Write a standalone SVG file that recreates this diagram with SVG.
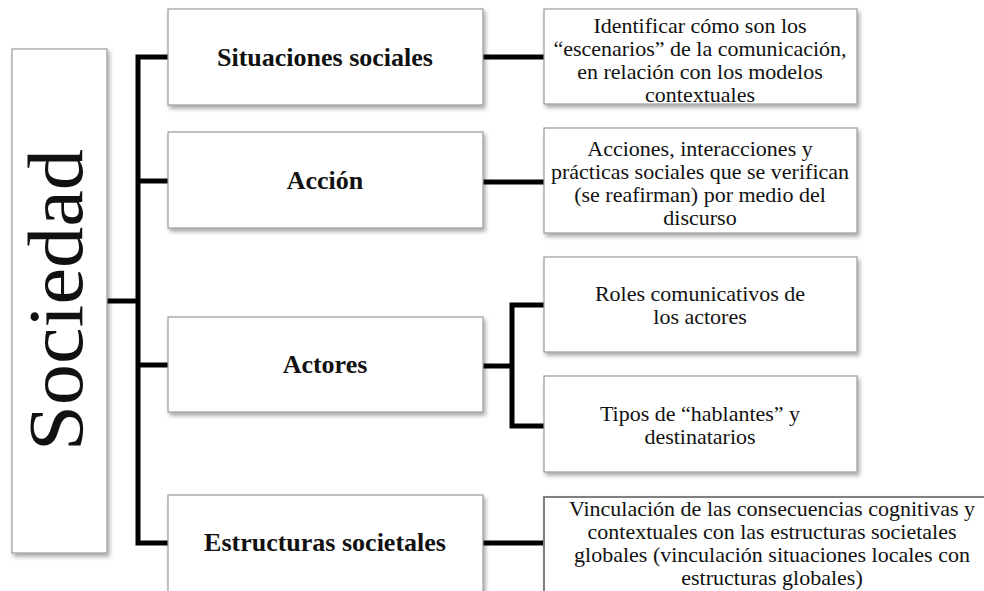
<svg xmlns="http://www.w3.org/2000/svg" width="984" height="591" viewBox="0 0 984 591">
<defs>
<filter id="sh" x="-10%" y="-10%" width="130%" height="130%">
<feDropShadow dx="2" dy="3" stdDeviation="2" flood-color="#000" flood-opacity="0.35"/>
</filter>
<style>
.box{fill:#fff;stroke:#9a9a9a;stroke-width:1.2;filter:url(#sh)}
.lbl{font-family:"Liberation Serif","Times New Roman",serif;font-weight:bold;font-size:26px;fill:#111;text-anchor:middle}
.txt{font-family:"Liberation Serif","Times New Roman",serif;font-size:22px;fill:#111;text-anchor:middle}
.big{font-family:"Liberation Serif","Times New Roman",serif;font-size:78px;fill:#111;text-anchor:middle}
.con{fill:none;stroke:#000;stroke-width:5;stroke-linejoin:miter;stroke-linecap:butt}
</style>
</defs>
<rect width="984" height="591" fill="#fff"/>
<g id="connectors">
<path class="con" d="M107,301 H138"/>
<path class="con" d="M168,57 H138 V543 H168"/>
<path class="con" d="M138,181 H168"/>
<path class="con" d="M138,365 H168"/>
<path class="con" d="M483,57 H544"/>
<path class="con" d="M483,182 H544"/>
<path class="con" d="M483,366 H512"/>
<path class="con" d="M544,305 H512 V426 H544"/>
<path class="con" d="M483,543 H544"/>
</g>
<g id="sociedad">
<rect class="box" x="12" y="49" width="95" height="504"/>
<text class="big" transform="translate(82,300) rotate(-90)" textLength="302" lengthAdjust="spacingAndGlyphs">Sociedad</text>
</g>
<g id="situaciones">
<rect class="box" x="168" y="9" width="315" height="96"/>
<text class="lbl" x="325" y="66">Situaciones sociales</text>
</g>
<g id="accion">
<rect class="box" x="168" y="132" width="315" height="96"/>
<text class="lbl" x="325" y="189">Acción</text>
</g>
<g id="actores">
<rect class="box" x="168" y="317" width="315" height="95"/>
<text class="lbl" x="325" y="373">Actores</text>
</g>
<g id="estructuras">
<rect class="box" x="168" y="495" width="315" height="110"/>
<text class="lbl" x="325" y="551">Estructuras societales</text>
</g>
<g id="d1">
<rect class="box" x="544" y="9" width="313" height="95"/>
<text class="txt"><tspan x="700" y="33">Identificar cómo son los</tspan><tspan x="700" y="56">“escenarios” de la comunicación,</tspan><tspan x="700" y="79">en relación con los modelos</tspan><tspan x="700" y="102">contextuales</tspan></text>
</g>
<g id="d2">
<rect class="box" x="544" y="128" width="313" height="105"/>
<text class="txt"><tspan x="700" y="156">Acciones, interacciones y</tspan><tspan x="700" y="179">prácticas sociales que se verifican</tspan><tspan x="700" y="202">(se reafirman) por medio del</tspan><tspan x="700" y="225">discurso</tspan></text>
</g>
<g id="d3">
<rect class="box" x="544" y="257" width="313" height="95"/>
<text class="txt"><tspan x="700" y="301">Roles comunicativos de</tspan><tspan x="700" y="324">los actores</tspan></text>
</g>
<g id="d4">
<rect class="box" x="544" y="376" width="313" height="96"/>
<text class="txt"><tspan x="700" y="421">Tipos de “hablantes” y</tspan><tspan x="700" y="444">destinatarios</tspan></text>
</g>
<g id="d5">
<rect class="box" x="544" y="497" width="460" height="110" style="stroke:#808080;stroke-width:2"/>
<text class="txt"><tspan x="772" y="516">Vinculación de las consecuencias cognitivas y</tspan><tspan x="772" y="539">contextuales con las estructuras societales</tspan><tspan x="772" y="562">globales (vinculación situaciones locales con</tspan><tspan x="772" y="585">estructuras globales)</tspan></text>
</g>
</svg>
